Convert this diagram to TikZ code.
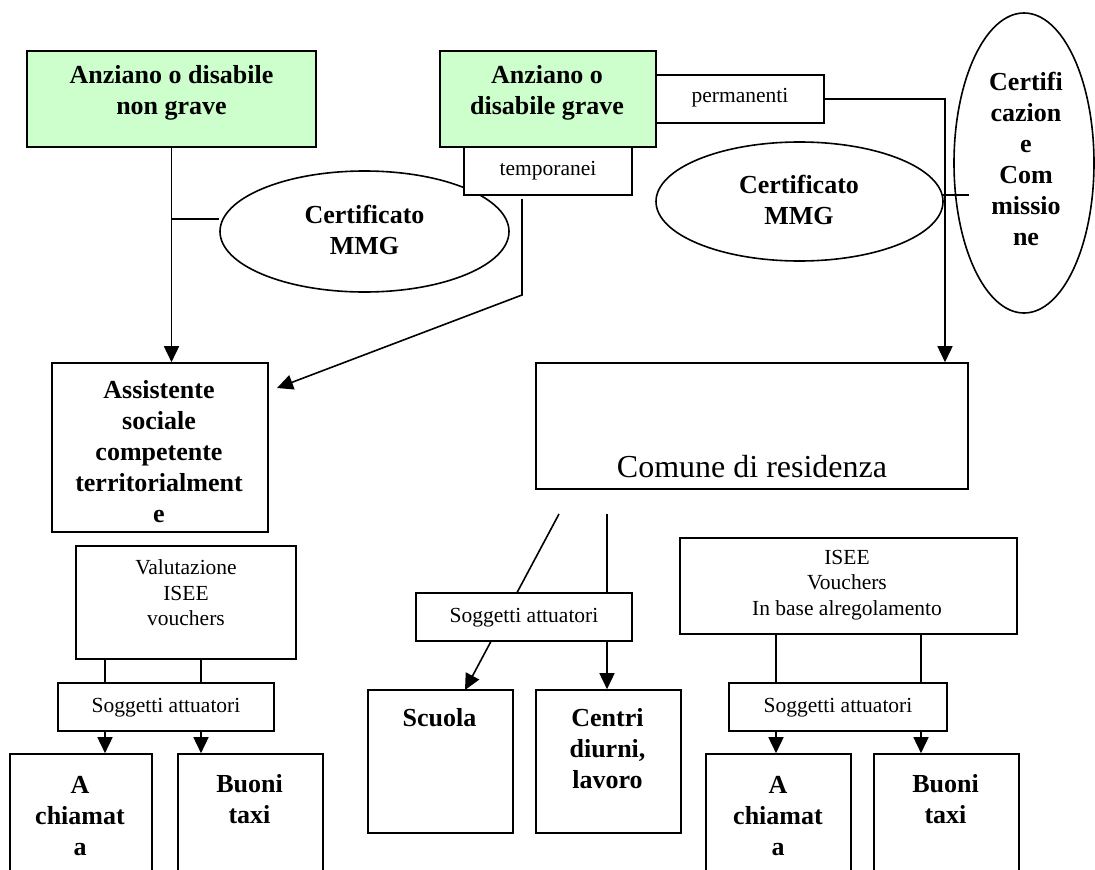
\documentclass[tikz,border=0pt]{standalone}
\usepackage{fontspec}
\setmainfont{Liberation Serif}
\usetikzlibrary{shapes.geometric,arrows.meta}
\definecolor{boxgreen}{HTML}{CCFFCC}
\begin{document}
\begin{tikzpicture}[x=1pt,y=-1pt,
  rbox/.style={draw,line width=1.6pt,fill=white,inner sep=0pt,rectangle},
  gbox/.style={rbox,fill=boxgreen},
  ell/.style={draw,line width=1.6pt,fill=white,ellipse,inner sep=0pt},
  bt/.style={font=\fontsize{26}{31}\selectfont\bfseries,align=center,inner sep=0pt},
  rt/.style={font=\fontsize{21.5}{25.5}\selectfont,align=center,inner sep=0pt},
  conn/.style={line width=1.6pt},
  arr/.style={line width=1.6pt,-{Triangle[length=16pt,width=15pt]}}]
\fill[white] (0,0) rectangle (1095,870);
\useasboundingbox (0,0) rectangle (1095,870);

% top boxes
\node[gbox,minimum width=289,minimum height=96] (b1) at (171.5,99) {};
\node[bt] (b1t) at (171.5,93) {Anziano o disabile\\non grave};
\node[ell,minimum width=289,minimum height=121] (e1) at (364.5,231.5) {};
\node[bt] (e1t) at (364.5,229.5) {Certificato\\MMG};
\node[gbox,minimum width=216,minimum height=96] (b2) at (548,99) {};
\node[bt] (b2t) at (547,93) {Anziano o\\disabile grave};
\node[rbox,minimum width=168,minimum height=48] (pe) at (740,99) {};
\node[rt] (pet) at (740,98) {permanenti};
\node[rbox,minimum width=168,minimum height=48] (te) at (548,171) {};
\node[rt] (tet) at (548,171) {temporanei};
\node[ell,minimum width=287,minimum height=119] (e2) at (799.5,201.5) {};
\node[bt] (e2t) at (799,200) {Certificato\\MMG};
\node[ell,minimum width=140,minimum height=300] (e3) at (1024,163) {};
\node[bt] (e3t) at (1026,158.5) {Certifi\\cazion\\e\\Com\\missio\\ne};

% middle boxes
\node[rbox,minimum width=216,minimum height=169] (as) at (160,447.5) {};
\node[bt] (ast) at (159,451.5) {Assistente\\sociale\\competente\\territorialment\\e};
\node[rbox,minimum width=432,minimum height=126] (co) at (752,426) {};
\node[font=\fontsize{32}{38}\selectfont,inner sep=0pt] (cot) at (752,467) {Comune di residenza};

% left column
\node[rbox,minimum width=220,minimum height=113] (va) at (186,602.5) {};
\node[rt] (vat) at (186,593) {Valutazione\\ISEE\\vouchers};
\node[rbox,minimum width=216,minimum height=48] (sl) at (166,707) {};
\node[rt] (slt) at (166,708) {Soggetti attuatori};
\node[rbox,minimum width=142,minimum height=136] (al) at (81,822) {};
\node[bt] (alt) at (80,816) {A\\chiamat\\a};
\node[rbox,minimum width=145,minimum height=136] (bl) at (250.5,822) {};
\node[bt] (blt) at (249.5,799) {Buoni\\taxi};

% centre column
\node[rbox,minimum width=145,minimum height=143] (sc) at (440.5,761.5) {};
\node[bt] (sct) at (439.5,718) {Scuola};
\node[rbox,minimum width=145,minimum height=143] (ce) at (608.5,761.5) {};
\node[bt] (cet) at (607.5,748.5) {Centri\\diurni,\\lavoro};

% right column
\node[rbox,minimum width=337,minimum height=96] (is) at (848.5,586) {};
\node[rt] (ist) at (847,585) {ISEE\\Vouchers\\In base alregolamento};
\node[rbox,minimum width=218,minimum height=48] (sr) at (838,707) {};
\node[rt] (srt) at (838,708) {Soggetti attuatori};
\node[rbox,minimum width=145,minimum height=136] (ar) at (778.5,822) {};
\node[bt] (art) at (778,816) {A\\chiamat\\a};
\node[rbox,minimum width=145,minimum height=136] (br) at (946.5,822) {};
\node[bt] (brt) at (945.5,799) {Buoni\\taxi};

% coordinates for connector bends and free ends
\coordinate (j1) at (171.5,219);
\coordinate (t1) at (522,199);
\coordinate (t2) at (522,295);
\coordinate (asin) at (277,388);
\coordinate (pk) at (945,99);
\coordinate (h1) at (943,195);
\coordinate (h2) at (969,195);
\coordinate (d1) at (559,514);
\coordinate (d1e) at (465,690);
\coordinate (d2) at (607,514);
\coordinate (vl) at (105,0);
\coordinate (vr) at (201,0);
\coordinate (il) at (776,0);
\coordinate (ir) at (921,0);

% connectors
\draw[arr] (b1.south) -- (b1.south |- as.north);
\draw[conn] (j1) -- (j1 -| e1.west);
\draw[arr] (t1) -- (t2) -- (asin);
\draw[arr] (pe.east) -- (pk) -- (pk |- co.north);
\draw[conn] (h1) -- (h2);
\draw[arr] (d1) -- (d1e);
\draw[arr] (d2) -- (d2 |- ce.north);
\draw[conn] (vl |- va.south) -- (vl |- sl.north);
\draw[conn] (vr |- va.south) -- (vr |- sl.north);
\draw[arr] (vl |- sl.south) -- (vl |- al.north);
\draw[arr] (vr |- sl.south) -- (vr |- bl.north);
\draw[conn] (il |- is.south) -- (il |- sr.north);
\draw[conn] (ir |- is.south) -- (ir |- sr.north);
\draw[arr] (il |- sr.south) -- (il |- ar.north);
\draw[arr] (ir |- sr.south) -- (ir |- br.north);

% middle "Soggetti attuatori" box drawn over the two connectors
\node[rbox,minimum width=216,minimum height=48] (sm) at (524,617) {};
\node[rt] (smt) at (524,618) {Soggetti attuatori};
\end{tikzpicture}
\end{document}
